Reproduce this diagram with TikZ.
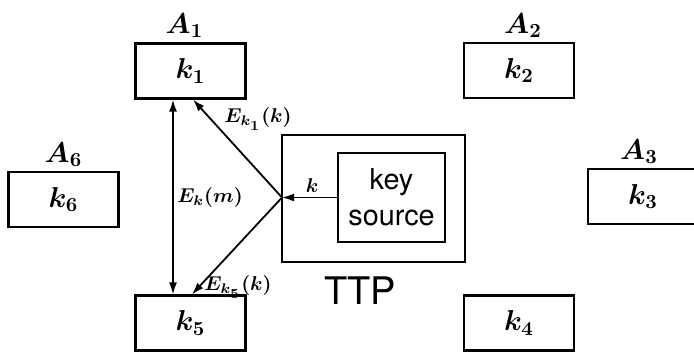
\documentclass[tikz,border=0pt]{standalone}
\usepackage{fontspec}
\newfontfamily\helv{TeX Gyre Heros}
\usetikzlibrary{arrows.meta, positioning}

\begin{document}
\begin{tikzpicture}[
    x=0.5pt, y=-0.5pt,
    % === STYLES ===
    keybox/.style={
        rectangle,
        draw,
        line width=1.1pt,
        minimum width=55pt,
        minimum height=27.5pt,
        font=\Large\boldmath
    },
    agent/.style={
        font=\Large\boldmath,
        inner sep=2pt
    },
    arrow/.style={
        -{Latex[length=6pt, width=4pt]},
        line width=0.9pt
    },
    dblarrow/.style={
        {Latex[length=6pt, width=4pt]}-{Latex[length=6pt, width=4pt]},
        line width=0.9pt
    },
    msg/.style={
        font=\normalsize\boldmath
    }
]
\useasboundingbox (0,0) rectangle (694,352);

% === USERS ===
\node[keybox] (k1) at (190.5,71) {$k_1$};
\node[keybox] (k2) at (519,70.5) {$k_2$};
\node[keybox] (k3) at (643,196.5) {$k_3$};
\node[keybox] (k4) at (519,323) {$k_4$};
\node[keybox] (k5) at (190.5,323) {$k_5$};
\node[keybox] (k6) at (63.5,199.5) {$k_6$};

\node[agent, above=0pt of k1, xshift=-3pt] (a1) {$A_1$};
\node[agent, above=0pt of k2, xshift=2pt] (a2) {$A_2$};
\node[agent, above=0pt of k3, xshift=-2pt] (a3) {$A_3$};
\node[agent, above=0pt of k6] (a6) {$A_6$};

% === TRUSTED THIRD PARTY ===
\draw[line width=1.1pt] (282,135) rectangle (465,262);
\node[draw, line width=1.1pt, minimum width=53.5pt, minimum height=44.5pt,
      align=center, font=\helv\Large] (source) at (391.5,197.5) {key\\source};
\coordinate (hub) at (282,197.5);
\node[font=\helv\fontsize{19}{22}\selectfont] (ttp) at (360,291) {TTP};

% === CONNECTIONS ===
\draw[arrow] (source.west) -- (hub);
\draw[arrow] (hub) -- (k1.south -| 193,0);
\draw[arrow] (hub) -- (k5.north -| 192,0);
\draw[dblarrow] (k1.south -| 173,0) -- (k5.north -| 173,0);

% === LABELS ===
\node[msg] (lk) at (312,186) {$k$};
\node[msg] (le1) at (258,119) {$E_{k_{\scriptstyle 1}}(k)$};
\node[msg] (lem) at (210,197) {$E_k(m)$};
\node[msg] (le5) at (238,287) {$E_{k_{\scriptstyle 5}}(k)$};

\end{tikzpicture}
\end{document}
